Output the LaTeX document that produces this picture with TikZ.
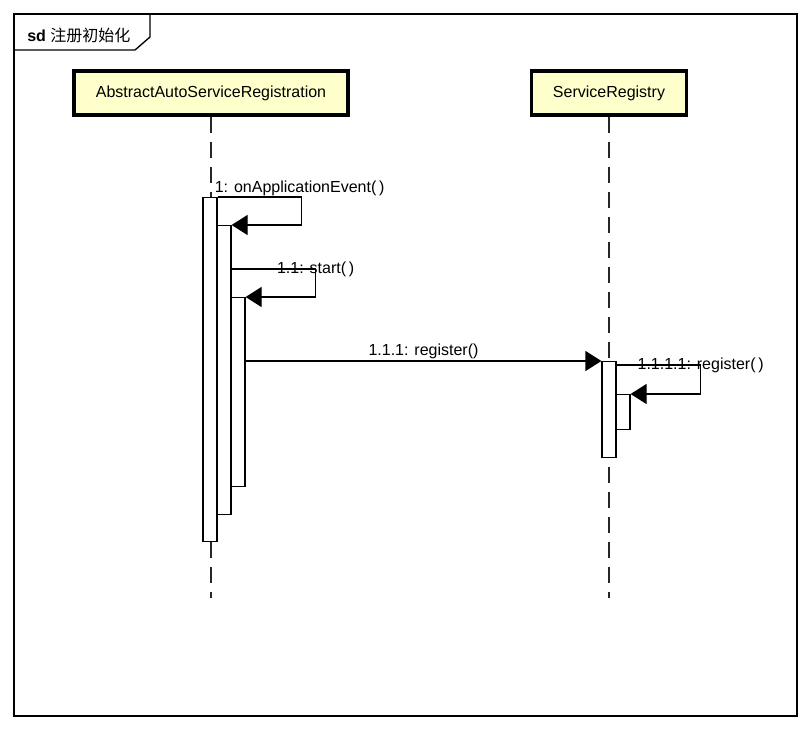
\documentclass[tikz,border=0pt]{standalone}
\usepackage{fontspec}
\setmainfont{Liberation Sans}
\newfontfamily\cjkfont{Noto Sans CJK SC}
\usetikzlibrary{arrows.meta,positioning,calc}

\definecolor{headyellow}{RGB}{255,255,204}

\tikzset{
    head/.style={draw, line width=2.3pt, fill=headyellow, minimum height=33pt, inner sep=0pt},
    actbar/.style={draw, fill=white, line width=0.9pt, minimum width=10.5pt, anchor=north, inner sep=0pt},
    lifeline/.style={line width=1.1pt, black!85, dash pattern=on 12pt off 6.75pt},
    msg/.style={line width=0.9pt, -{Triangle[length=12pt,width=15pt]}},
    msglabel/.style={anchor=base, inner sep=0pt}
}

\begin{document}
\begin{tikzpicture}[x=0.75pt, y=-0.75pt, font=\fontsize{12}{14}\selectfont]
    \useasboundingbox (0,0) rectangle (811,729);

    % Frame
    \draw[line width=1pt] (14,14) rectangle (797,716);
    \draw[line width=1pt] (14,50) -- (135,50) -- (150,37) -- (150,14);
    \node[anchor=base west, inner sep=0pt] (frameTag) at (27,41) {\textbf{sd} \cjkfont 注册初始化};

    % Lifeline heads
    \node[head, minimum width=205.5pt] (abs) at (211,93) {AbstractAutoServiceRegistration};
    \node[head, minimum width=116.25pt] (srv) at (609,93) {ServiceRegistry};

    % Lifelines
    \coordinate (absEnd) at (211,598);
    \coordinate (srvEnd) at (609,598);
    \draw[lifeline] (abs.south) -- (absEnd);
    \draw[lifeline] (srv.south) -- (srvEnd);

    % Activation bars
    \node[actbar, minimum height=258pt] (barA) at (210,197) {};
    \node[actbar, minimum height=216.75pt] (barB) at (224,225) {};
    \node[actbar, minimum height=141.75pt] (barC) at (238,297) {};
    \node[actbar, minimum height=72pt] (barD) at (609,361) {};
    \node[actbar, minimum height=26.25pt] (barE) at (623,394) {};

    % 1: self call
    \draw[msg] (barA.north east) -- ++(84,0) coordinate (loop1) |- (barB.north east);
    \node[msglabel] (lbl1) at ($(loop1)+(-2,-5)$) {1: onApplicationEvent(\,)};

    % 1.1: self call
    \draw[msg] ($(barB.north east)+(0,44)$) -- ++(84,0) coordinate (loop2) |- (barC.north east);
    \node[msglabel] (lbl2) at ($(loop2)+(0,4)$) {1.1: start(\,)};

    % 1.1.1: call to the registry
    \draw[msg] ($(barC.north east)+(0,64)$) -- (barD.north west)
        node[msglabel, midway, yshift=4.5pt] (lbl3) {1.1.1: register()};

    % 1.1.1.1: self call
    \draw[msg] ($(barD.north east)+(0,4)$) -- ++(84,0) coordinate (loop4) |- (barE.north east);
    \node[msglabel] (lbl4) at ($(loop4)+(0,4)$) {1.1.1.1: register(\,)};
\end{tikzpicture}
\end{document}
